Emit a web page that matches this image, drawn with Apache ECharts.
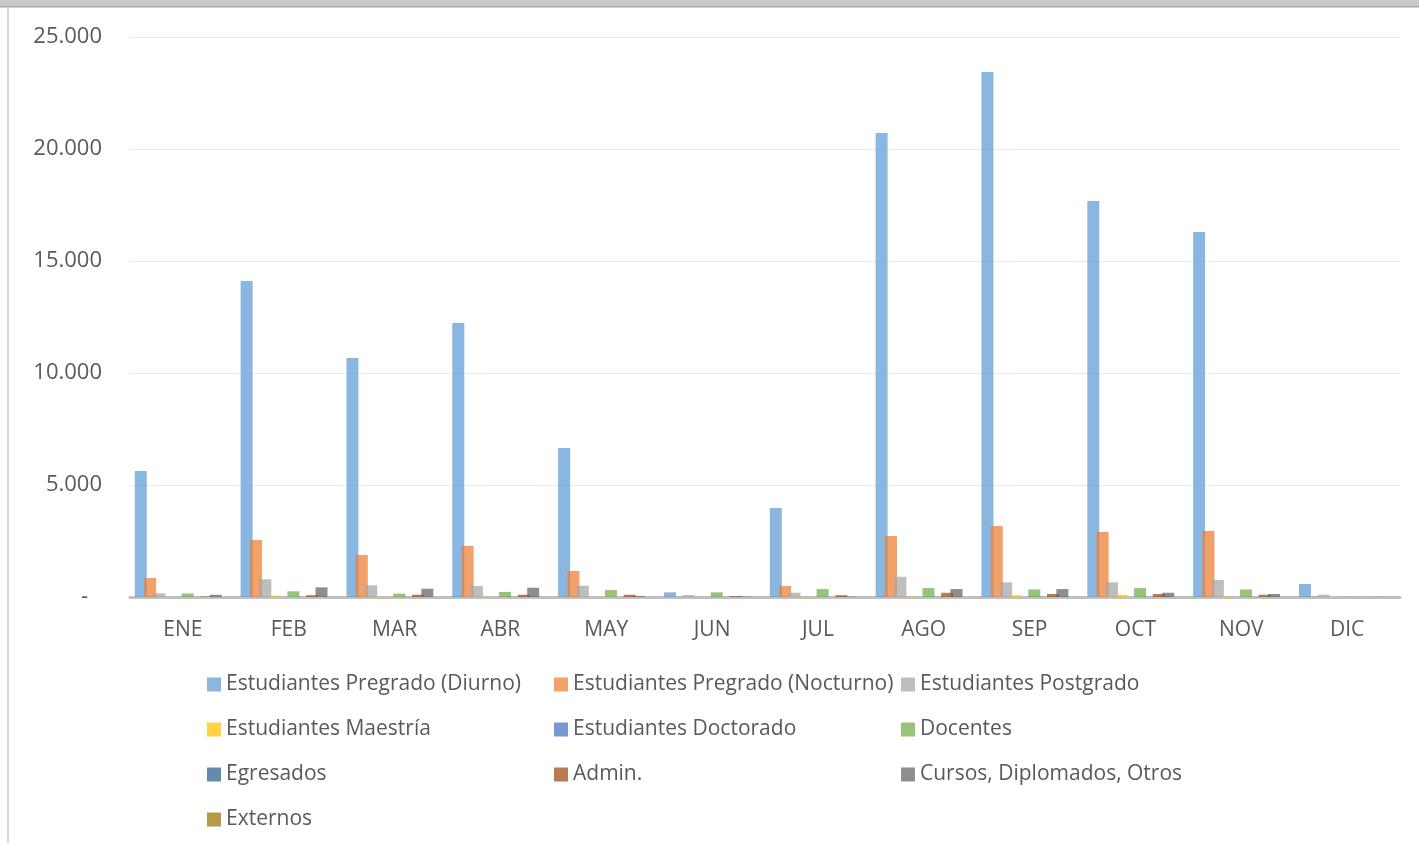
<!DOCTYPE html>
<html>
<head>
<meta charset="utf-8">
<script src="https://cdn.jsdelivr.net/npm/echarts@6/dist/echarts.min.js"></script>
<style>
html,body{margin:0;padding:0;background:#fff;}
#chart{width:1419px;height:843px;}
</style>
</head>
<body>
<div id="chart"></div>
<script>
const months = ['ENE','FEB','MAR','ABR','MAY','JUN','JUL','AGO','SEP','OCT','NOV','DIC'];
const seriesNames = ['Estudiantes Pregrado (Diurno)','Estudiantes Pregrado (Nocturno)','Estudiantes Postgrado','Estudiantes Maestría','Estudiantes Doctorado','Docentes','Egresados','Admin.','Cursos, Diplomados, Otros','Externos'];
const diurno    = [5625,14110,10670,12230,6650,210,3970,20710,23440,17680,16300,580];
const nocturno  = [850,2545,1875,2280,1160,15,490,2720,3170,2900,2950,20];
const postgrado = [165,790,520,490,505,90,190,905,655,655,760,100];
const maestria  = [10,60,30,20,10,0,30,20,80,100,40,0];
const doctorado = [0,0,0,0,0,0,0,0,0,0,0,0];
const docentes  = [160,255,150,225,310,210,355,400,340,400,340,20];
const egresados = [0,5,5,5,0,0,0,5,5,5,5,0];
const admin     = [20,80,100,100,100,40,80,190,135,135,100,0];
const cursos    = [100,430,370,415,45,20,20,355,355,190,135,10];
const externos  = [0,0,0,0,0,0,0,0,0,0,0,0];
const yTicks = [0,5000,10000,15000,20000,25000];
const colors = ['#5B9BD5','#ED7D31','#A5A5A5','#FFC000','#4472C4','#70AD47','#255E91','#9E480E','#636363','#997300'];

const allData = [diurno,nocturno,postgrado,maestria,doctorado,docentes,egresados,admin,cursos,externos];
const FONT = 'Open Sans';

const chart = echarts.init(document.getElementById('chart'));
chart.setOption({
  animation:false,
  backgroundColor:'#fff',
  color: colors,
  graphic:[
    {type:'rect', shape:{x:0,y:0,width:1419,height:6}, style:{fill:'#c8c8c8'}, silent:true},
    {type:'rect', shape:{x:0,y:6,width:1419,height:1.5}, style:{fill:'#a4a4a4'}, silent:true},
    {type:'rect', shape:{x:7,y:7,width:2,height:836}, style:{fill:'#d9d9d9'}, silent:true}
  ],
  grid:{left:130,right:19,top:37,bottom:246,containLabel:false},
  xAxis:{
    type:'category',
    data:months,
    axisTick:{show:false},
    axisLine:{lineStyle:{color:'#c0c0c0',width:3}},
    axisLabel:{color:'#595959',fontSize:21,fontFamily:FONT,margin:23}
  },
  yAxis:{
    type:'value',
    min:yTicks[0], max:yTicks[yTicks.length-1], interval:5000,
    axisLine:{show:false},
    axisTick:{show:false},
    splitLine:{lineStyle:{color:'#ebebeb',width:1}},
    axisLabel:{
      color:'#595959',fontSize:22,fontFamily:FONT,margin:28,
      formatter:function(v){
        if(v===0) return '{z|-}';
        return v.toString().replace(/\B(?=(\d{3})+(?!\d))/g,'.');
      },
      rich:{z:{fontSize:22,fontFamily:FONT,color:'#595959',padding:[0,14,0,0]}}
    }
  },
  legend:{
    left:202, top:657, width:1060,
    itemWidth:14, itemHeight:14, itemGap:0,
    icon:'rect',
    data:seriesNames,
    textStyle:{color:'#595959',fontSize:21,fontFamily:FONT,width:328,lineHeight:45}
  },
  series: seriesNames.map((n,i)=>({
    name:n, type:'bar', data:allData[i],
    barWidth:12, barGap:'-22%',
    itemStyle:{color:colors[i],opacity:0.72}
  }))
});
</script>
</body>
</html>
